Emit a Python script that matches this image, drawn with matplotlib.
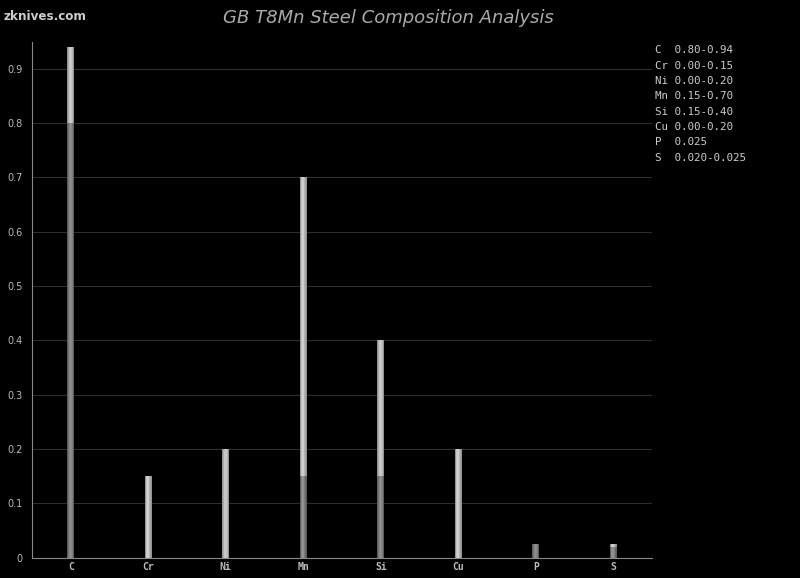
import numpy as np
import matplotlib.pyplot as plt

elements = ['C', 'Cr', 'Ni', 'Mn', 'Si', 'Cu', 'P', 'S']
min_vals = [0.80, 0.00, 0.00, 0.15, 0.15, 0.00, 0.025, 0.020]
max_vals = [0.94, 0.15, 0.20, 0.70, 0.40, 0.20, 0.025, 0.025]
legend_lines = ['C  0.80-0.94', 'Cr 0.00-0.15', 'Ni 0.00-0.20', 'Mn 0.15-0.70',
                'Si 0.15-0.40', 'Cu 0.00-0.20', 'P  0.025', 'S  0.020-0.025']
y_ticks = [0, 0.1, 0.2, 0.3, 0.4, 0.5, 0.6, 0.7, 0.8, 0.9]

fig = plt.figure(figsize=(8, 5.78), dpi=100, facecolor='black')
ax = fig.add_axes([0.04, 0.035, 0.775, 0.893])
ax.set_facecolor('black')

width = 0.09
nstrips = 9
# cylinder-like shading profile across the bar
prof = np.array([0.35, 0.6, 0.85, 1.0, 0.95, 0.85, 0.7, 0.5, 0.35])
offs = (np.arange(nstrips) - (nstrips - 1) / 2) * width / nstrips


def shaded_bar(x, bottom, height, lo, hi):
    for o, p in zip(offs, prof):
        g = lo + (hi - lo) * p
        ax.bar(x + o, height, width=width / nstrips, bottom=bottom,
               color=(g, g, g), linewidth=0, zorder=3)


xs = np.arange(len(elements))
for x, mn, mx in zip(xs, min_vals, max_vals):
    if mn > 0:
        shaded_bar(x, 0, mn, 0.25, 0.58)
    if mx > mn:
        shaded_bar(x, mn, mx - mn, 0.45, 0.82)

ax.set_xlim(-0.5, len(elements) - 0.5)
ax.set_ylim(0, 0.95)
ax.set_yticks(y_ticks)
ax.set_yticklabels([('%g' % v) for v in y_ticks])
ax.set_xticks(xs)
ax.set_xticklabels(elements, family='DejaVu Sans Mono', fontweight='bold')
ax.tick_params(axis='both', colors='#999999', labelcolor='#bbbbbb', labelsize=7, length=0)
ax.tick_params(axis='y', pad=7)
ax.tick_params(axis='x', pad=3)
ax.grid(axis='y', color='#2e2e2e', linewidth=0.8, zorder=0)
for s in ['top', 'right']:
    ax.spines[s].set_visible(False)
for s in ['left', 'bottom']:
    ax.spines[s].set_color('#888888')

fig.text(0.486, 0.968, 'GB T8Mn Steel Composition Analysis', ha='center', va='center',
         color='#aaaaaa', fontsize=13, style='italic')
fig.text(0.004, 0.972, 'zknives.com', ha='left', va='center', color='#cccccc',
         fontsize=9.5, fontweight='bold', stretch='condensed')

for i, line in enumerate(legend_lines):
    fig.text(0.819, 0.913 - i * 0.0265, line, ha='left', va='center',
             color='#cccccc', fontsize=7.8, family='DejaVu Sans Mono')

fig.savefig('out.png', dpi=100, facecolor='black')
